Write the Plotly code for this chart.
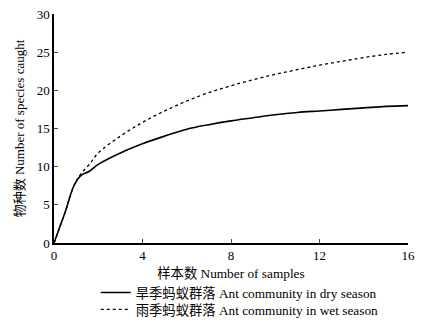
import plotly.graph_objects as go

samples = [0, 0.25, 0.5, 0.9, 1.2, 1.6, 2, 3, 4, 5, 6, 7, 8, 9, 10, 11, 12, 13, 14, 15, 16]
dry = [0, 2.0, 4.0, 7.5, 8.8, 9.4, 10.3, 11.8, 13.0, 14.0, 14.9, 15.5, 16.0, 16.4, 16.8, 17.1, 17.3, 17.5, 17.7, 17.9, 18.0]
wet = [0, 2.0, 4.0, 7.5, 9.0, 10.3, 11.8, 14.0, 15.8, 17.3, 18.6, 19.7, 20.6, 21.4, 22.1, 22.7, 23.3, 23.8, 24.3, 24.7, 25.0]

dry_name = "旱季蚂蚁群落 Ant community in dry season"
wet_name = "雨季蚂蚁群落 Ant community in wet season"
x_ticks = [0, 4, 8, 12, 16]
y_ticks = [0, 5, 10, 15, 20, 25, 30]

font_family = "'Liberation Serif', 'Times New Roman', 'Noto Sans CJK SC', serif"

fig = go.Figure()
fig.add_trace(go.Scatter(x=samples, y=dry, mode="lines", name=dry_name, legend="legend",
                         line=dict(color="black", width=1.6), line_shape="spline"))
fig.add_trace(go.Scatter(x=samples, y=wet, mode="lines", name=wet_name, legend="legend2",
                         line=dict(color="black", width=1.3, dash="3px,3px"), line_shape="spline"))

leg_common = dict(x=0.118, xanchor="left", yanchor="top", orientation="v",
                  font=dict(size=13.3, family=font_family), bgcolor="rgba(0,0,0,0)",
                  itemwidth=30)

fig.update_layout(
    width=447, height=327,
    margin=dict(l=54, r=39, t=14, b=84, autoexpand=False),
    paper_bgcolor="white", plot_bgcolor="white",
    font=dict(family=font_family, size=13, color="black"),
    showlegend=True,
    legend=dict(y=-0.150, **leg_common),
    legend2=dict(y=-0.224, **leg_common),
    xaxis=dict(range=[0, 16], tickvals=x_ticks, ticks="inside", ticklen=4,
               showline=True, linecolor="black", linewidth=1.5, showgrid=False,
               zeroline=False, tickfont=dict(size=13), automargin=False,
               title=dict(text="样本数 Number of samples", font=dict(size=13.3), standoff=6)),
    yaxis=dict(range=[0, 30], tickvals=y_ticks, ticks="inside", ticklen=4,
               showline=True, linecolor="black", linewidth=1.5, showgrid=False,
               zeroline=False, tickfont=dict(size=13), automargin=True,
               title=dict(text="物种数 Number of species caught", font=dict(size=13), standoff=9)),
)

fig.write_html("out.html", config={"displayModeBar": False},
               post_script="document.body.style.margin='0';document.body.style.overflow='hidden';")
